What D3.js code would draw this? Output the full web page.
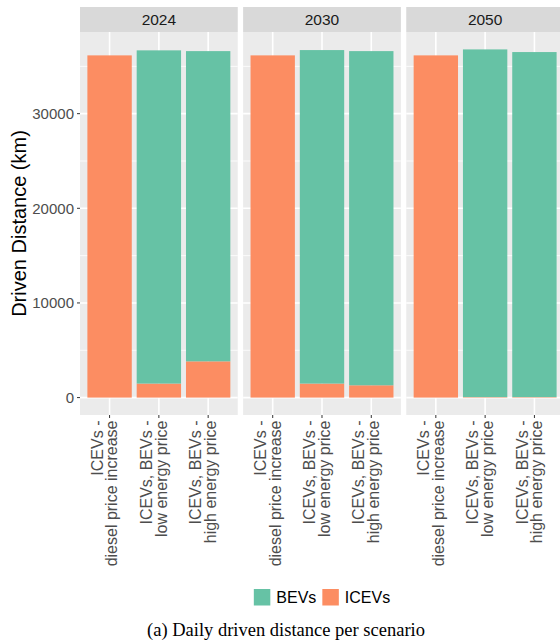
<!DOCTYPE html>
<html>
<head>
<meta charset="utf-8">
<script src="https://cdn.jsdelivr.net/npm/d3@7"></script>
<style>
  html, body { margin: 0; padding: 0; background: #ffffff; }
  svg { display: block; }
</style>
</head>
<body>
<svg id="chart" width="560" height="641"></svg>
<script>
// ---- data ----
const years = ["2024", "2030", "2050"];
const scenarios = [
  ["ICEVs -", "diesel price increase"],
  ["ICEVs, BEVs -", "low energy price"],
  ["ICEVs, BEVs -", "high energy price"]
];
const seriesNames = ["BEVs", "ICEVs"];
// ICEV driven distance (km), per year, per scenario
const icevValues = [
  [36160, 1480, 3830],
  [36160, 1480, 1300],
  [36160, 50, 50]
];
// BEV driven distance (km), per year, per scenario
const bevValues = [
  [0, 35210, 32780],
  [0, 35240, 35310],
  [0, 36740, 36460]
];
const yTicks = [0, 10000, 20000, 30000];
const yMinorTicks = [5000, 15000, 25000, 35000];
const caption = "(a) Daily driven distance per scenario";

// ---- style ----
const colors = { BEVs: "#66C2A5", ICEVs: "#FC8D62" };
const panelBg = "#EBEBEB", stripBg = "#D9D9D9";

const svg = d3.select("#chart");
const plotLeft = 80, plotRight = 564;
const panelTop = 32, panelBottom = 415, stripTop = 7;

const facetX = d3.scaleBand().domain(years).range([plotLeft, plotRight]).paddingInner(0.033);
const panelW = facetX.bandwidth();

const scenKeys = scenarios.map(s => s.join(" "));
const x = d3.scaleBand().domain(scenKeys).range([0, panelW]).paddingInner(0.1).paddingOuter(0.15);

const totals = years.map((y, i) => scenKeys.map((s, j) => icevValues[i][j] + bevValues[i][j]));
const maxV = d3.max(totals.flat());
const exp = maxV * 0.05;
const y = d3.scaleLinear().domain([-exp, maxV + exp]).range([panelBottom, panelTop]);

years.forEach((yr, i) => {
  const g = svg.append("g").attr("transform", `translate(${facetX(yr)},0)`);
  // strip
  g.append("rect").attr("x", 0).attr("y", stripTop).attr("width", panelW).attr("height", panelTop - stripTop).attr("fill", stripBg);
  g.append("text").attr("x", panelW / 2).attr("y", (stripTop + panelTop) / 2).attr("dy", "0.36em")
    .attr("text-anchor", "middle").attr("font-family", "Liberation Sans, Arial, sans-serif")
    .attr("font-size", 15.5).attr("fill", "#1A1A1A").text(yr);
  // panel background
  g.append("rect").attr("x", 0).attr("y", panelTop).attr("width", panelW).attr("height", panelBottom - panelTop).attr("fill", panelBg);
  // minor grid
  g.selectAll(".ymin").data(yMinorTicks).join("line")
    .attr("x1", 0).attr("x2", panelW).attr("y1", d => y(d)).attr("y2", d => y(d))
    .attr("stroke", "#fff").attr("stroke-width", 0.8);
  // major grid
  g.selectAll(".ymaj").data(yTicks).join("line")
    .attr("x1", 0).attr("x2", panelW).attr("y1", d => y(d)).attr("y2", d => y(d))
    .attr("stroke", "#fff").attr("stroke-width", 1.6);
  g.selectAll(".xmaj").data(scenKeys).join("line")
    .attr("x1", d => x(d) + x.bandwidth() / 2).attr("x2", d => x(d) + x.bandwidth() / 2)
    .attr("y1", panelTop).attr("y2", panelBottom)
    .attr("stroke", "#fff").attr("stroke-width", 1.6);
  // stacked bars
  const rows = scenKeys.map((s, j) => ({ key: s, ICEVs: icevValues[i][j], BEVs: bevValues[i][j] }));
  const stack = d3.stack().keys(["ICEVs", "BEVs"])(rows);
  stack.forEach(layer => {
    g.selectAll(null).data(layer).join("rect")
      .attr("x", d => x(d.data.key))
      .attr("width", x.bandwidth())
      .attr("y", d => y(d[1]))
      .attr("height", d => Math.max(0, y(d[0]) - y(d[1])))
      .attr("fill", colors[layer.key]);
  });
  // x ticks
  g.selectAll(".xt").data(scenKeys).join("line")
    .attr("x1", d => x(d) + x.bandwidth() / 2).attr("x2", d => x(d) + x.bandwidth() / 2)
    .attr("y1", panelBottom).attr("y2", panelBottom + 3)
    .attr("stroke", "#333333").attr("stroke-width", 1);
  // x labels
  scenarios.forEach((lines, j) => {
    const cx = x(scenKeys[j]) + x.bandwidth() / 2;
    const t = g.append("text")
      .attr("transform", `translate(${cx},${panelBottom + 5.5}) rotate(-90)`)
      .attr("text-anchor", "end").attr("font-family", "Liberation Sans, Arial, sans-serif")
      .attr("font-size", 16).attr("fill", "#4D4D4D");
    lines.forEach((ln, k) => {
      t.append("tspan").attr("x", 0).attr("y", k === 0 ? -6.8 : 7.8).text(ln);
    });
  });
});

// y axis ticks and labels
const ya = svg.append("g");
ya.selectAll("line").data(yTicks).join("line")
  .attr("x1", plotLeft - 3).attr("x2", plotLeft).attr("y1", d => y(d)).attr("y2", d => y(d))
  .attr("stroke", "#333333").attr("stroke-width", 1);
ya.selectAll("text").data(yTicks).join("text")
  .attr("x", plotLeft - 6).attr("y", d => y(d)).attr("dy", "0.36em")
  .attr("text-anchor", "end").attr("font-family", "Liberation Sans, Arial, sans-serif")
  .attr("font-size", 15).attr("fill", "#4D4D4D").text(d => d3.format("d")(d));

// y title
svg.append("text")
  .attr("transform", `translate(25.5,${(panelTop + panelBottom) / 2}) rotate(-90)`)
  .attr("text-anchor", "middle").attr("font-family", "Liberation Sans, Arial, sans-serif")
  .attr("font-size", 20).attr("fill", "#000").text("Driven Distance (km)");

// legend
const lg = svg.append("g");
const keySize = 16.5, legY = 589;
const fontL = 16;
const items = seriesNames.map(n => ({ name: n }));
// measure widths
const tmp = svg.append("text").attr("font-family", "Liberation Sans, Arial, sans-serif").attr("font-size", fontL);
items.forEach(it => { tmp.text(it.name); it.w = tmp.node().getComputedTextLength(); });
tmp.remove();
const gapKT = 6, gapItems = 6;
const totalW = d3.sum(items, it => keySize + gapKT + it.w) + gapItems * (items.length - 1);
let lx = (plotLeft + plotRight) / 2 - totalW / 2;
items.forEach(it => {
  lg.append("rect").attr("x", lx).attr("y", legY).attr("width", keySize).attr("height", keySize)
    .attr("fill", colors[it.name]);
  lg.append("text").attr("x", lx + keySize + gapKT).attr("y", legY + keySize / 2).attr("dy", "0.36em")
    .attr("font-family", "Liberation Sans, Arial, sans-serif").attr("font-size", fontL).attr("fill", "#000")
    .text(it.name);
  lx += keySize + gapKT + it.w + gapItems;
});

// caption
svg.append("text").attr("x", 286).attr("y", 636)
  .attr("text-anchor", "middle").attr("font-family", "Liberation Serif, Times New Roman, serif")
  .attr("font-size", 18.5).attr("fill", "#000").text(caption);
</script>
</body>
</html>
